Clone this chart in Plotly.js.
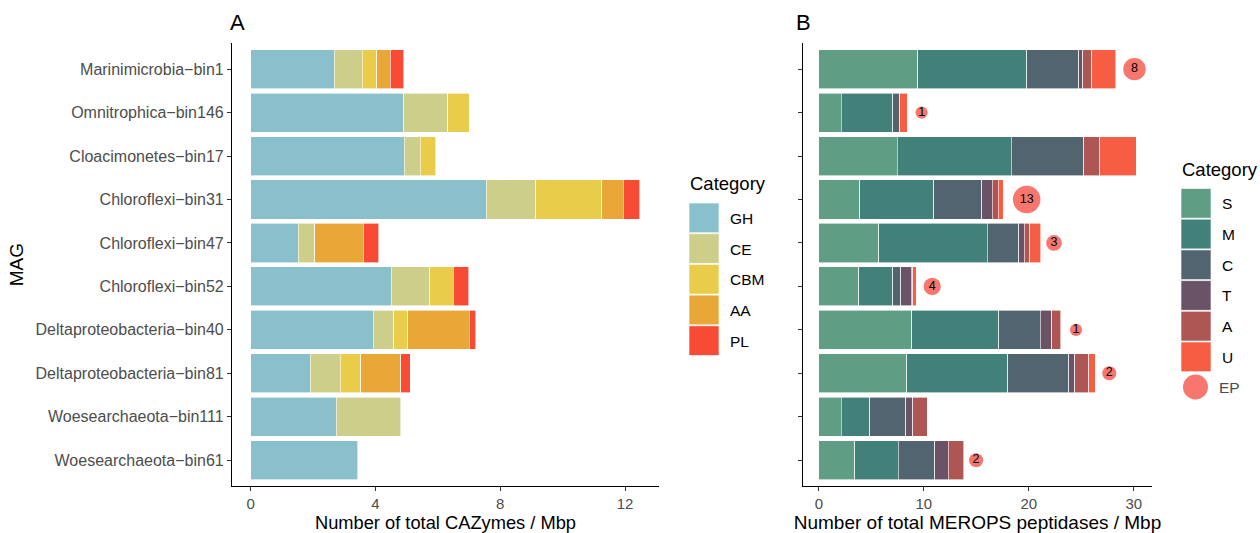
<!DOCTYPE html>
<html>
<head>
<meta charset="utf-8">
<script src="https://cdn.plot.ly/plotly-3.0.1.min.js"></script>
<style>body{margin:0;padding:0;background:#fff}#chart{width:1260px;height:533px}</style>
</head>
<body>
<div id="chart"></div>
<script>
// ---- data ----
const mags = ["Marinimicrobia−bin1","Omnitrophica−bin146","Cloacimonetes−bin17","Chloroflexi−bin31","Chloroflexi−bin47","Chloroflexi−bin52","Deltaproteobacteria−bin40","Deltaproteobacteria−bin81","Woesearchaeota−bin111","Woesearchaeota−bin61"];

// Panel A: CAZymes per Mbp
const cazyCats = ["GH","CE","CBM","AA","PL"];
const GH  = [2.68, 4.91, 4.93, 7.55, 1.53, 4.50, 3.93, 1.91, 2.74, 3.43];
const CE  = [0.90, 1.40, 0.50, 1.59, 0.53, 1.24, 0.66, 0.96, 2.07, null];
const CBM = [0.46, 0.69, 0.50, 2.11, null, 0.75, 0.44, 0.66, null, null];
const AA  = [0.43, null, null, 0.70, 1.54, null, 1.97, 1.28, null, null];
const PL  = [0.44, null, null, 0.52, 0.50, 0.50, 0.22, 0.30, null, null];

// Panel B: MEROPS peptidases per Mbp
const meropsCats = ["S","M","C","T","A","U"];
const S = [9.41, 2.11, 7.45, 3.91, 5.72, 3.82, 8.84, 8.37, 2.11, 3.44];
const M = [10.40, 4.93, 10.90, 7.02, 10.30, 3.22, 8.32, 9.63, 2.72, 4.14];
const C = [4.93, 0.66, 6.89, 4.58, 3.03, 0.76, 3.94, 5.79, 3.47, 3.47];
const T = [0.41, null, null, 1.01, 0.50, 0.98, 1.08, 0.60, 0.64, 1.30];
const A = [0.85, null, 1.52, 0.57, 0.54, 0.17, 0.88, 1.33, 1.39, 1.45];
const U = [2.30, 0.74, 3.47, 0.50, 1.04, 0.34, null, 0.63, null, null];

// EP counts and their label positions (x, peptidases / Mbp)
const EP  = [8, 1, 10, 13, 3, 4, 1, 2, null, 2];
const epX = [30.07, 9.79, 32.1, 19.8, 22.4, 10.8, 24.5, 27.67, null, 14.98];

// ---- styles ----
const cazyColors = {GH:"#89C0CC", CE:"#CCCE8A", CBM:"#E9CD4A", AA:"#E9A737", PL:"#F74B36"};
const meropsColors = {S:"#5F9D85", M:"#418179", C:"#526470", T:"#6A5267", A:"#AD5654", U:"#F75D42"};
const epColor = "#F8766D";
const FONT = "Liberation Sans, Arial, Helvetica, sans-serif";
const W = 1260, H = 533;
const px = x => x / W, py = y => 1 - y / H;

const cazyData = {GH, CE, CBM, AA, PL};
const meropsData = {S, M, C, T, A, U};
const outline = {color: "rgba(255,255,255,0.75)", width: 0.8};

const traces = [];
cazyCats.forEach(c => traces.push({
  type: "bar", orientation: "h", y: mags, x: cazyData[c], name: c, width: 0.9,
  marker: {color: cazyColors[c], line: outline}, xaxis: "x", yaxis: "y", showlegend: false
}));
meropsCats.forEach(c => traces.push({
  type: "bar", orientation: "h", y: mags, x: meropsData[c], name: c, width: 0.9,
  marker: {color: meropsColors[c], line: outline}, xaxis: "x2", yaxis: "y2", showlegend: false
}));
const epSize = v => v == null ? 0 : 1.1 * Math.sqrt(79 + 42 * v);
traces.push({
  type: "scatter", mode: "markers+text", x: epX, y: mags, name: "EP",
  text: EP.map(v => v == null ? "" : String(v)), textposition: "middle center",
  textfont: {family: FONT, size: 12.5, color: "#000"},
  marker: {color: epColor, opacity: 1, size: EP.map(epSize), line: {width: 0}},
  xaxis: "x2", yaxis: "y2", showlegend: false, cliponaxis: false
});

const yDomain = [py(486.3), py(43.1)];
const axisCommon = {
  showline: true, linecolor: "#000", linewidth: 1.1, showgrid: false, zeroline: false,
  ticks: "outside", ticklen: 4, tickcolor: "#333", tickwidth: 1,
  tickfont: {family: FONT, size: 15, color: "#4D4D4D"}
};

// ---- manual legends ----
const shapes = [], annotations = [];
function legend(title, cats, colors, x0, titleY, firstTop, step) {
  annotations.push({xref: "paper", yref: "paper", x: px(x0 - 1), y: py(titleY), xanchor: "left", yanchor: "middle",
    text: title, showarrow: false, font: {family: FONT, size: 18.5, color: "#000"}});
  cats.forEach((c, i) => {
    const top = firstTop + i * step;
    shapes.push({type: "rect", xref: "paper", yref: "paper", x0: px(x0), x1: px(x0 + 30), y0: py(top + step - 1), y1: py(top),
      fillcolor: colors[c], line: {color: "rgba(255,255,255,0.8)", width: 0.8}});
    annotations.push({xref: "paper", yref: "paper", x: px(x0 + 39), y: py(top + step / 2), xanchor: "left", yanchor: "middle",
      text: c, showarrow: false, font: {family: FONT, size: 15.5, color: "#000"}});
  });
}
legend("Category", cazyCats, cazyColors, 689, 184, 203, 30.7);
legend("Category", meropsCats, meropsColors, 1181, 169, 188.5, 30.7);
// EP entry in legend B
const epCy = 387, epCx = 1195.5, epR = 12.5;
shapes.push({type: "circle", xref: "paper", yref: "paper", x0: px(epCx - epR), x1: px(epCx + epR), y0: py(epCy + epR), y1: py(epCy - epR),
  fillcolor: epColor, line: {width: 0}});
annotations.push({xref: "paper", yref: "paper", x: px(1217), y: py(epCy), xanchor: "left", yanchor: "middle",
  text: "EP", showarrow: false, font: {family: FONT, size: 15.5, color: "#4D4D4D"}});

// panel tags
annotations.push({xref: "paper", yref: "paper", x: px(228), y: py(22), xanchor: "left", yanchor: "middle",
  text: "A", showarrow: false, font: {family: FONT, size: 22, color: "#000"}});
annotations.push({xref: "paper", yref: "paper", x: px(794), y: py(22), xanchor: "left", yanchor: "middle",
  text: "B", showarrow: false, font: {family: FONT, size: 22, color: "#000"}});

const layout = {
  width: W, height: H, margin: {l: 0, r: 0, t: 0, b: 0},
  paper_bgcolor: "#fff", plot_bgcolor: "#fff", barmode: "stack", bargap: 0.1,
  font: {family: FONT},
  xaxis: Object.assign({}, axisCommon, {domain: [px(232), px(659)], range: [-0.6, 13.09], anchor: "y",
    tickvals: [0, 4, 8, 12],
    title: {text: "Number of total CAZymes / Mbp", font: {family: FONT, size: 18.3, color: "#000"}, standoff: 5}}),
  yaxis: Object.assign({}, axisCommon, {domain: yDomain, anchor: "x", type: "category",
    categoryorder: "array", categoryarray: mags, range: [9.6, -0.6],
    tickfont: {family: FONT, size: 16, color: "#4D4D4D"},
    title: {text: "MAG", font: {family: FONT, size: 19, color: "#000"}, standoff: 6}}),
  xaxis2: Object.assign({}, axisCommon, {domain: [px(803), px(1152)], range: [-1.51, 31.74], anchor: "y2",
    tickvals: [0, 10, 20, 30],
    title: {text: "Number of total MEROPS peptidases / Mbp", font: {family: FONT, size: 19, color: "#000"}, standoff: 5}}),
  yaxis2: Object.assign({}, axisCommon, {domain: yDomain, anchor: "x2", type: "category",
    categoryorder: "array", categoryarray: mags, range: [9.6, -0.6], showticklabels: false}),
  shapes, annotations, showlegend: false
};

Plotly.newPlot("chart", traces, layout, {displayModeBar: false, staticPlot: true});
</script>
</body>
</html>
